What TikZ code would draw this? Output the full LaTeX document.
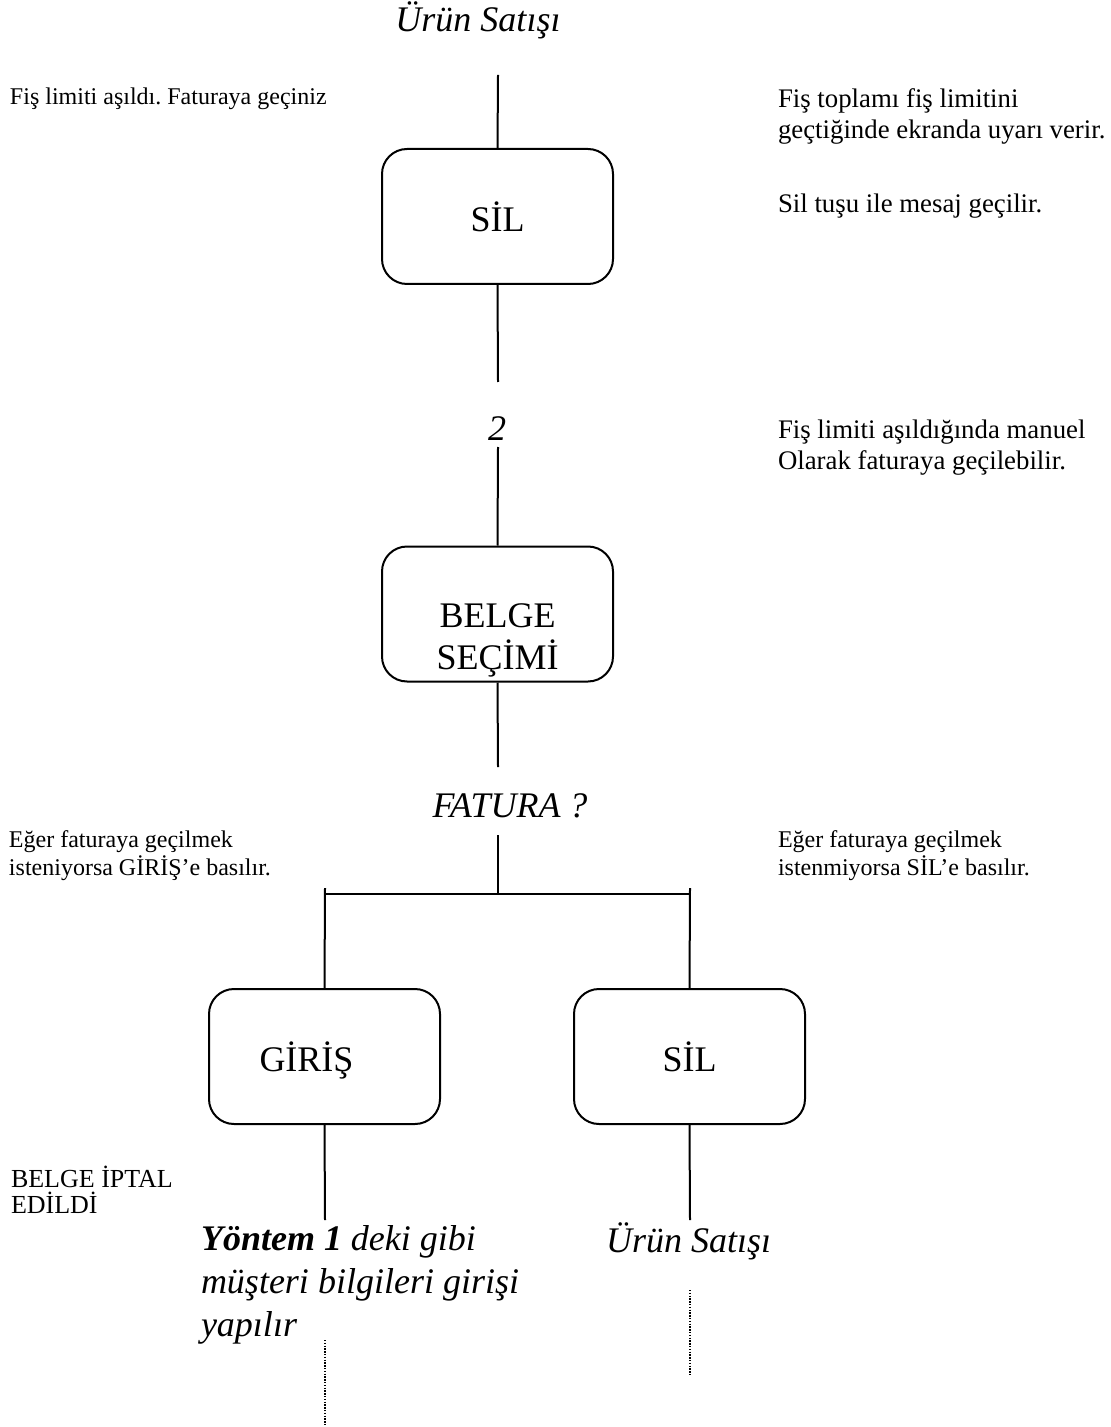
\documentclass[tikz,border=0pt]{standalone}
\usepackage{fontspec}
\setmainfont{Liberation Serif}
\frenchspacing
\begin{document}
\begin{tikzpicture}[x=0.5pt, y=-0.5pt, line width=1pt]
            \useasboundingbox (0,0) rectangle (1111,1427);
            {
                \tikzset{every node/.style = {inner sep=0pt}}
                \tikzset{kutu/.style = {draw, rounded corners=12.5pt, minimum width=115.5pt, minimum height=67.5pt, align=center, font=\fontsize{18}{21}\selectfont}}
                \tikzset{buyuk/.style = {font=\fontsize{18}{21.5}\selectfont\itshape, align=left}}
                \tikzset{not/.style = {anchor=base west, align=left, font=\fontsize{12}{14}\selectfont}}
                \tikzset{notb/.style = {not, font=\fontsize{13.4}{15.5}\selectfont}}

                % boxes
                \node[kutu] (sil1) at (497.5, 216.5) {SİL};
                \node[kutu] (belge) at (497.5, 614) {\rule{0pt}{38pt}BELGE\\SEÇİMİ};
                \node[kutu, text depth=0pt] (giris) at (324.5, 1056.5) {GİRİŞ\hspace{18pt}};
                \node[kutu] (sil2) at (689.5, 1056.5) {SİL};

                % italic texts (base = last line)
                \node[buyuk, anchor=base] (urun1) at (478, 32) {Ürün Satışı};
                \node[buyuk, anchor=base] (iki) at (497, 440) {2};
                \node[buyuk, anchor=base] (fatura) at (510, 817) {FATURA ?};
                \node[buyuk, anchor=base west] (yontem) at (200, 1336) {\textbf{Yöntem 1} deki gibi\\müşteri bilgileri girişi\\yapılır};
                \node[buyuk, anchor=base west] (urun2) at (605, 1252) {Ürün Satışı};

                % notes
                \node[not] (n1) at (9, 105) {Fiş limiti aşıldı. Faturaya geçiniz};
                \node[notb] (n2) at (777, 139) {Fiş toplamı fiş limitini\\geçtiğinde ekranda uyarı verir.};
                \node[notb] (n3) at (777, 213) {Sil tuşu ile mesaj geçilir.};
                \node[notb] (n4) at (777, 469) {Fiş limiti aşıldığında manuel\\Olarak faturaya geçilebilir.};
                \node[not] (n5) at (8, 875) {Eğer faturaya geçilmek\\isteniyorsa GİRİŞ’e basılır.};
                \node[not] (n6) at (777, 875) {Eğer faturaya geçilmek\\istenmiyorsa SİL’e basılır.};
                \node[notb, font=\fontsize{13}{13}\selectfont] (n7) at (10, 1213) {BELGE İPTAL\\EDİLDİ};
            }

            % free ends of the lines
            \coordinate (a1) at (498, 75);
            \coordinate (a2) at (498, 382);
            \coordinate (a3) at (498, 447);
            \coordinate (a4) at (498, 767);
            \coordinate (a5) at (498, 835);
            \coordinate (kol) at (498, 894);
            \coordinate (sol) at (325, 894);
            \coordinate (sag) at (690, 894);
            \coordinate (b1) at (325, 1220);
            \coordinate (b2) at (690, 1220);
            \coordinate (c1) at (325, 1340);
            \coordinate (c2) at (325, 1427);
            \coordinate (d1) at (690, 1290);
            \coordinate (d2) at (690, 1375);

            % main line
            \draw (a1) -- (sil1.north);
            \draw (sil1.south) -- (a2);
            \draw (a3) -- (belge.north);
            \draw (belge.south) -- (a4);
            \draw (a5) -- (kol);

            % branch
            \draw (sol) -- (sag);
            \draw ([yshift=3pt]sol) -- (giris.north);
            \draw ([yshift=3pt]sag) -- (sil2.north);
            \draw (giris.south) -- (b1);
            \draw (sil2.south) -- (b2);

            % continues
            \draw[line width=0.8pt, dash pattern=on 0.7pt off 0.7pt] (c1) -- (c2);
            \draw[line width=0.8pt, dash pattern=on 0.7pt off 0.7pt] (d1) -- (d2);

        \end{tikzpicture}
\end{document}
